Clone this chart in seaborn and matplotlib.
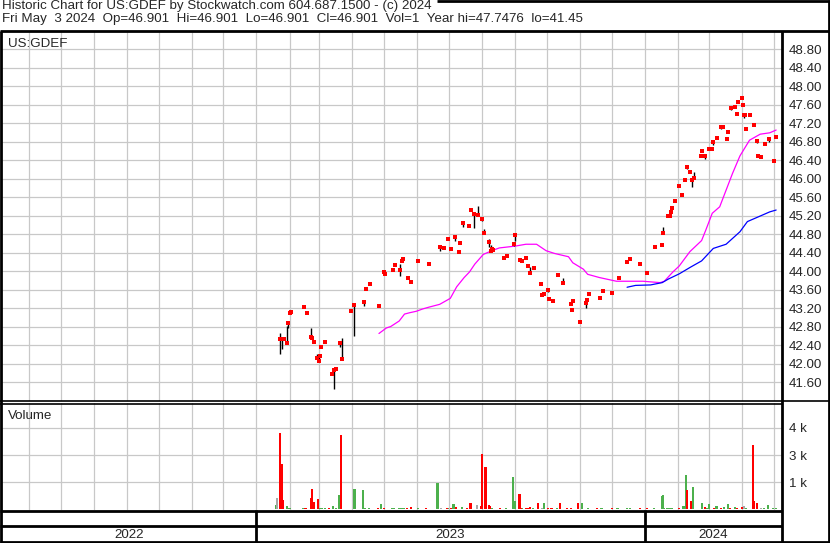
import pandas as pd
import matplotlib.pyplot as plt
import seaborn as sns

# --- price data (daily high / low / close) ---
price_dates = [
    '2023-01-23', '2023-01-25', '2023-01-27', '2023-01-30', '2023-01-31', '2023-02-01', '2023-02-02',
    '2023-02-15', '2023-02-17', '2023-02-21', '2023-02-22', '2023-02-24', '2023-02-27', '2023-03-01',
    '2023-03-02', '2023-03-03', '2023-03-06', '2023-03-13', '2023-03-15', '2023-03-17', '2023-03-20',
    '2023-03-22', '2023-03-31', '2023-04-03', '2023-04-12', '2023-04-14', '2023-04-18', '2023-04-26',
    '2023-05-01', '2023-05-02', '2023-05-09', '2023-05-11', '2023-05-16', '2023-05-18', '2023-05-19',
    '2023-05-23', '2023-05-26', '2023-06-02', '2023-06-12', '2023-06-22', '2023-06-26', '2023-06-30',
    '2023-07-03', '2023-07-06', '2023-07-10', '2023-07-11', '2023-07-14', '2023-07-20', '2023-07-21',
    '2023-07-24', '2023-07-28', '2023-08-01', '2023-08-03', '2023-08-07', '2023-08-09', '2023-08-10',
    '2023-08-11', '2023-08-21', '2023-08-24', '2023-08-31', '2023-09-01', '2023-09-05', '2023-09-07',
    '2023-09-11', '2023-09-13', '2023-09-15', '2023-09-19', '2023-09-25', '2023-09-26', '2023-09-28',
    '2023-10-02', '2023-10-03', '2023-10-06', '2023-10-11', '2023-10-16', '2023-10-23', '2023-10-24',
    '2023-10-25', '2023-11-01', '2023-11-06', '2023-11-07', '2023-11-09', '2023-11-20', '2023-11-22',
    '2023-12-01', '2023-12-07', '2023-12-15', '2023-12-18', '2023-12-27', '2024-01-03', '2024-01-10',
    '2024-01-17', '2024-01-18', '2024-01-22', '2024-01-24', '2024-01-25', '2024-01-26', '2024-01-29',
    '2024-02-02', '2024-02-05', '2024-02-07', '2024-02-09', '2024-02-12', '2024-02-14', '2024-02-16',
    '2024-02-22', '2024-02-23', '2024-02-26', '2024-03-01', '2024-03-04', '2024-03-05', '2024-03-08',
    '2024-03-12', '2024-03-14', '2024-03-18', '2024-03-19', '2024-03-22', '2024-03-25', '2024-03-27',
    '2024-03-28', '2024-04-01', '2024-04-02', '2024-04-03', '2024-04-04', '2024-04-05', '2024-04-08',
    '2024-04-12', '2024-04-15', '2024-04-16', '2024-04-19', '2024-04-23', '2024-04-26', '2024-05-01',
    '2024-05-03',
]
price_high = [
    42.66, 42.55, 42.53, 42.81, 42.88, 43.10, 43.11, 43.22, 43.10, 42.77, 42.55, 42.47, 42.21, 42.17,
    42.17, 42.36, 42.46, 41.78, 41.88, 41.89, 42.49, 42.55, 43.14, 43.29, 43.34, 43.61, 43.72, 43.24,
    43.98, 43.94, 44.02, 44.13, 44.15, 44.22, 44.26, 43.85, 43.76, 44.22, 44.15, 44.54, 44.50, 44.69,
    44.48, 44.76, 44.41, 44.61, 45.04, 44.98, 45.32, 45.25, 45.41, 45.15, 44.91, 44.69, 44.56, 44.47,
    44.45, 44.28, 44.32, 44.58, 44.80, 44.27, 44.22, 44.28, 44.11, 44.09, 44.07, 43.74, 43.48, 43.51,
    43.63, 43.40, 43.36, 43.92, 43.84, 43.29, 43.16, 43.36, 42.90, 43.30, 43.37, 43.50, 43.42, 43.57,
    43.53, 43.85, 44.19, 44.27, 44.16, 43.96, 44.53, 44.57, 44.96, 45.19, 45.19, 45.28, 45.37, 45.52,
    45.84, 45.65, 45.98, 46.28, 46.15, 45.99, 46.14, 46.49, 46.59, 46.51, 46.64, 46.64, 46.79, 46.88,
    47.11, 47.11, 46.85, 47.01, 47.54, 47.54, 47.39, 47.65, 47.75, 47.60, 47.38, 47.38, 47.07, 47.38,
    47.16, 46.83, 46.49, 46.47, 46.75, 46.87, 46.38, 46.90,
]
price_low = [
    42.21, 42.31, 42.53, 42.42, 42.77, 43.10, 43.11, 43.22, 43.10, 42.58, 42.55, 42.47, 42.12, 42.05,
    42.17, 42.36, 42.46, 41.78, 41.45, 41.89, 42.36, 42.10, 43.14, 42.60, 43.25, 43.61, 43.72, 43.24,
    43.98, 43.94, 44.02, 44.13, 43.90, 44.22, 44.26, 43.85, 43.76, 44.22, 44.15, 44.43, 44.50, 44.69,
    44.48, 44.65, 44.41, 44.61, 44.96, 44.98, 45.32, 44.94, 45.21, 45.09, 44.82, 44.52, 44.42, 44.47,
    44.45, 44.28, 44.32, 44.54, 44.66, 44.22, 44.22, 44.28, 44.11, 43.95, 44.07, 43.70, 43.48, 43.51,
    43.55, 43.40, 43.36, 43.92, 43.75, 43.29, 43.16, 43.36, 42.90, 43.21, 43.37, 43.50, 43.42, 43.57,
    43.53, 43.85, 44.19, 44.27, 44.16, 43.96, 44.53, 44.57, 44.82, 45.19, 45.19, 45.28, 45.37, 45.52,
    45.84, 45.65, 45.98, 46.20, 46.15, 45.81, 45.99, 46.49, 46.59, 46.42, 46.64, 46.64, 46.72, 46.88,
    47.07, 47.11, 46.85, 47.01, 47.48, 47.54, 47.39, 47.65, 47.75, 47.60, 47.31, 47.38, 47.07, 47.38,
    47.16, 46.76, 46.49, 46.47, 46.75, 46.80, 46.38, 46.90,
]
price_close = [
    42.53, 42.53, 42.53, 42.44, 42.88, 43.10, 43.11, 43.22, 43.10, 42.58, 42.55, 42.47, 42.12, 42.06,
    42.17, 42.36, 42.46, 41.78, 41.87, 41.89, 42.44, 42.10, 43.14, 43.27, 43.33, 43.61, 43.72, 43.24,
    43.98, 43.94, 44.02, 44.13, 44.02, 44.22, 44.26, 43.85, 43.76, 44.22, 44.15, 44.52, 44.50, 44.69,
    44.48, 44.74, 44.41, 44.61, 45.03, 44.98, 45.32, 45.23, 45.21, 45.12, 44.83, 44.63, 44.44, 44.47,
    44.45, 44.28, 44.32, 44.58, 44.79, 44.24, 44.22, 44.28, 44.11, 43.95, 44.07, 43.72, 43.48, 43.51,
    43.59, 43.40, 43.36, 43.92, 43.75, 43.29, 43.16, 43.36, 42.90, 43.30, 43.37, 43.50, 43.42, 43.57,
    43.53, 43.85, 44.19, 44.27, 44.16, 43.96, 44.53, 44.57, 44.83, 45.19, 45.19, 45.28, 45.37, 45.52,
    45.84, 45.65, 45.98, 46.24, 46.15, 45.98, 46.01, 46.49, 46.59, 46.49, 46.64, 46.64, 46.79, 46.88,
    47.11, 47.11, 46.85, 47.01, 47.52, 47.54, 47.39, 47.65, 47.75, 47.60, 47.38, 47.38, 47.07, 47.38,
    47.16, 46.81, 46.49, 46.47, 46.75, 46.86, 46.38, 46.90,
]

# --- moving averages ---
ma_short_dates = [
    '2023-04-26', '2023-05-03', '2023-05-07', '2023-05-15', '2023-05-20', '2023-05-25', '2023-05-31',
    '2023-06-06', '2023-06-12', '2023-06-22', '2023-07-02', '2023-07-08', '2023-07-15', '2023-07-20',
    '2023-07-25', '2023-08-02', '2023-08-10', '2023-08-17', '2023-09-01', '2023-09-11', '2023-09-21',
    '2023-09-30', '2023-10-08', '2023-10-21', '2023-10-25', '2023-11-04', '2023-11-08', '2023-11-19',
    '2023-12-05', '2023-12-30', '2024-01-15', '2024-01-19', '2024-01-27', '2024-02-02', '2024-02-12',
    '2024-02-23', '2024-02-27', '2024-03-04', '2024-03-11', '2024-03-17', '2024-03-23', '2024-03-30',
    '2024-04-08', '2024-04-18', '2024-04-27', '2024-05-03',
]
ma_short = [
    42.65, 42.77, 42.80, 42.92, 43.07, 43.10, 43.13, 43.18, 43.22, 43.28, 43.41, 43.66, 43.86, 43.98,
    44.15, 44.36, 44.44, 44.50, 44.54, 44.58, 44.58, 44.44, 44.38, 44.31, 44.18, 44.04, 43.93, 43.86,
    43.78, 43.78, 43.75, 43.78, 43.98, 44.11, 44.42, 44.66, 44.89, 45.25, 45.39, 45.75, 46.11, 46.49,
    46.83, 46.96, 46.99, 47.05,
]
ma_long_dates = [
    '2023-12-15', '2023-12-23', '2024-01-06', '2024-01-17', '2024-01-23', '2024-02-02', '2024-02-13',
    '2024-02-23', '2024-03-05', '2024-03-17', '2024-03-30', '2024-04-06', '2024-04-18', '2024-04-27',
    '2024-05-03',
]
ma_long = [
    43.65, 43.69, 43.70, 43.75, 43.83, 43.94, 44.09, 44.22, 44.49, 44.58, 44.85, 45.07, 45.19, 45.28,
    45.32,
]

# --- volume (up / down / flat days) ---
vol_dates = [
    '2023-01-19', '2023-01-20', '2023-01-23', '2023-01-25', '2023-01-26', '2023-01-30', '2023-02-01',
    '2023-02-14', '2023-02-16', '2023-02-21', '2023-02-22', '2023-02-24', '2023-02-28', '2023-03-01',
    '2023-03-03', '2023-03-06', '2023-03-10', '2023-03-14', '2023-03-17', '2023-03-20', '2023-03-21',
    '2023-04-03', '2023-04-11', '2023-04-13', '2023-04-17', '2023-04-25', '2023-04-28', '2023-05-01',
    '2023-05-08', '2023-05-10', '2023-05-15', '2023-05-17', '2023-05-19', '2023-05-22', '2023-05-26',
    '2023-06-02', '2023-06-09', '2023-06-20', '2023-06-23', '2023-06-29', '2023-06-30', '2023-07-03',
    '2023-07-05', '2023-07-07', '2023-07-13', '2023-07-18', '2023-07-21', '2023-07-27', '2023-07-31',
    '2023-08-01', '2023-08-04', '2023-08-07', '2023-08-08', '2023-08-10', '2023-08-18', '2023-08-23',
    '2023-08-30', '2023-09-01', '2023-09-05', '2023-09-06', '2023-09-07', '2023-09-11', '2023-09-13',
    '2023-09-15', '2023-09-18', '2023-09-22', '2023-09-26', '2023-09-28', '2023-10-02', '2023-10-05',
    '2023-10-10', '2023-10-13', '2023-10-20', '2023-10-23', '2023-10-30', '2023-11-03', '2023-11-08',
    '2023-11-17', '2023-11-21', '2023-12-01', '2023-12-06', '2023-12-15', '2023-12-18', '2023-12-27',
    '2024-01-03', '2024-01-09', '2024-01-17', '2024-01-18', '2024-01-19', '2024-01-22', '2024-01-23',
    '2024-01-25', '2024-01-26', '2024-02-02', '2024-02-06', '2024-02-08', '2024-02-09', '2024-02-13',
    '2024-02-15', '2024-02-23', '2024-02-26', '2024-02-28', '2024-03-01', '2024-03-06', '2024-03-08',
    '2024-03-12', '2024-03-15', '2024-03-19', '2024-03-21', '2024-03-25', '2024-03-27', '2024-04-01',
    '2024-04-03', '2024-04-05', '2024-04-11', '2024-04-12', '2024-04-15', '2024-04-19', '2024-04-22',
    '2024-04-25', '2024-04-30', '2024-05-03',
]
vol_values = [
    210, 560, 3770, 2240, 460, 170, 70, 70, 70, 560, 1000, 370, 500, 70,
    70, 70, 70, 170, 70, 700, 3650, 1000, 950, 70, 70, 70, 250, 70,
    70, 70, 70, 70, 70, 70, 120, 70, 70, 1300, 70, 70, 70, 70,
    250, 120, 120, 70, 300, 210, 170, 2720, 2080, 210, 170, 70, 70, 70,
    1580, 410, 760, 70, 70, 70, 70, 120, 70, 300, 70, 300, 70, 70,
    70, 300, 70, 70, 300, 300, 70, 70, 70, 70, 70, 70, 70, 70,
    70, 70, 640, 690, 70, 70, 70, 70, 70, 70, 170, 1680, 940, 400,
    1090, 300, 120, 70, 250, 70, 170, 70, 120, 250, 70, 120, 70, 120,
    170, 70, 3160, 410, 300, 70, 70, 210, 70, 70,
]
vol_dir = [
    'up', 'flat', 'down', 'down', 'down', 'up', 'up', 'up', 'down', 'down', 'down', 'down', 'down', 'up',
    'up', 'up', 'down', 'up', 'up', 'up', 'down', 'up', 'up', 'up', 'up', 'down', 'up', 'down',
    'up', 'up', 'up', 'up', 'up', 'down', 'down', 'up', 'down', 'up', 'flat', 'down', 'up', 'down',
    'up', 'down', 'up', 'down', 'down', 'flat', 'down', 'down', 'down', 'down', 'down', 'up', 'down', 'up',
    'up', 'up', 'down', 'down', 'up', 'down', 'down', 'down', 'up', 'down', 'flat', 'up', 'down', 'down',
    'up', 'down', 'down', 'down', 'down', 'up', 'up', 'down', 'up', 'down', 'up', 'up', 'up', 'down',
    'down', 'up', 'up', 'up', 'up', 'up', 'up', 'up', 'up', 'down', 'up', 'up', 'down', 'down',
    'up', 'up', 'down', 'up', 'up', 'down', 'up', 'down', 'up', 'up', 'down', 'up', 'down', 'down',
    'flat', 'up', 'down', 'down', 'down', 'flat', 'up', 'up', 'up', 'up',
]

price_ticks = [41.60, 42.00, 42.40, 42.80, 43.20, 43.60, 44.00, 44.40, 44.80,
               45.20, 45.60, 46.00, 46.40, 46.80, 47.20, 47.60, 48.00, 48.40, 48.80]
vol_ticks = [1333, 2667, 4000]
vol_tick_labels = ['1 k', '3 k', '4 k']
years = ['2022', '2023', '2024']

header1 = 'Historic Chart for US:GDEF by Stockwatch.com 604.687.1500 - (c) 2024'
header2 = ('Fri May  3 2024  Op=46.901  Hi=46.901  Lo=46.901  Cl=46.901  '
           'Vol=1  Year hi=47.7476  lo=41.45')

# ---------------------------------------------------------------
px = pd.DataFrame({'date': pd.to_datetime(price_dates), 'high': price_high,
                   'low': price_low, 'close': price_close})
bars = px[px['high'] != px['low']]
ma1 = pd.DataFrame({'date': pd.to_datetime(ma_short_dates), 'value': ma_short})
ma2 = pd.DataFrame({'date': pd.to_datetime(ma_long_dates), 'value': ma_long})
vol = pd.DataFrame({'date': pd.to_datetime(vol_dates), 'volume': vol_values, 'dir': vol_dir})
vol_colors = {'up': '#4cb04c', 'down': '#ff0000', 'flat': '#a8a8a8'}

sns.set_style('white')
plt.rcParams['font.family'] = ['Liberation Sans', 'DejaVu Sans']

W, H = 830, 543
fs = 9.6
fig = plt.figure(figsize=(W / 100, H / 100), dpi=100)


def box(x0, y0, x1, y1):
    return [x0 / W, 1 - y1 / H, (x1 - x0) / W, (y1 - y0) / H]


ax = fig.add_axes(box(2, 32, 782, 401))
axv = fig.add_axes(box(2, 403, 782, 510), sharex=ax)

xmin, xmax = pd.Timestamp('2022-05-07'), pd.Timestamp('2024-05-08 12:00')
months = pd.date_range('2022-06-01', '2024-05-01', freq='MS')
grid_kw = dict(color='#c8c8c8', linewidth=0.9)

# price panel
ax.vlines(bars['date'], bars['low'], bars['high'], color='black', linewidth=1.0, zorder=3)
sns.scatterplot(data=px, x='date', y='close', marker='s', s=7, color='#ff0000',
                linewidth=0, ax=ax, zorder=4)
sns.lineplot(data=ma1, x='date', y='value', color='#ff00ff', linewidth=0.9, ax=ax, zorder=2)
sns.lineplot(data=ma2, x='date', y='value', color='#0000ff', linewidth=0.9, ax=ax, zorder=2)

ax.set_xlim(xmin, xmax)
ax.set_ylim(41.19, 49.17)
ax.set_xticks(months)
ax.set_yticks(price_ticks)
ax.set_yticklabels([f'{t:.2f}' for t in price_ticks])
ax.yaxis.tick_right()
ax.grid(True, **grid_kw)
ax.set_axisbelow(True)
ax.tick_params(axis='x', length=0, labelbottom=False)
ax.tick_params(axis='y', length=0, pad=5, labelsize=fs)
ax.set_xlabel('')
ax.set_ylabel('')
ax.text(0.008, 0.985, 'US:GDEF', transform=ax.transAxes, ha='left', va='top', fontsize=fs)

# volume panel
for d, c in vol_colors.items():
    sub = vol[vol['dir'] == d]
    axv.bar(sub['date'], sub['volume'], width=2.0, color=c, linewidth=0, zorder=3)
axv.set_ylim(-40, 5230)
axv.set_yticks(vol_ticks)
axv.set_yticklabels(vol_tick_labels)
axv.yaxis.tick_right()
axv.grid(True, **grid_kw)
axv.set_axisbelow(True)
axv.tick_params(axis='x', length=0, labelbottom=False)
axv.tick_params(axis='y', length=0, pad=5, labelsize=fs)
axv.text(0.008, 0.93, 'Volume', transform=axv.transAxes, ha='left', va='top', fontsize=fs)

for a in (ax, axv):
    for s in a.spines.values():
        s.set_visible(False)

# frame / overlay in pixel space
ov = fig.add_axes([0, 0, 1, 1], zorder=10)
ov.set_xlim(0, W)
ov.set_ylim(H, 0)
ov.set_axis_off()
ov.patch.set_alpha(0)

lw = 2.0
seg = [
    ((437, 830), (0.8, 0.8)),      # top
    ((0, 830), (31, 31)),          # under header
    ((1, 1), (31, 543)),           # left
    ((829, 829), (0, 543)),        # right
    ((782, 782), (31, 543)),       # axis column
    ((0, 782), (400.5, 400.5)),    # price bottom
    ((0, 782), (403.5, 403.5)),    # volume top
    ((782, 830), (401, 401)),
    ((0, 782), (510.5, 510.5)),    # volume bottom
    ((0, 782), (526, 526)),        # month row
    ((0, 830), (542, 542)),        # bottom
    ((256, 256), (510, 542)),
    ((645, 645), (510, 542)),
]
for xs, ys in seg:
    w = 1.2 if ys[0] in (400.5, 403.5, 401) else lw
    ov.plot(xs, ys, color='black', linewidth=w, solid_capstyle='butt')

ov.text(2, 0.0, header1, ha='left', va='top', fontsize=fs)
ov.text(2, 13.0, header2, ha='left', va='top', fontsize=fs)
for yr, x0, x1 in zip(years, [2, 256, 645], [256, 645, 782]):
    ov.text((x0 + x1) / 2, 535, yr, ha='center', va='center', fontsize=fs)

plt.savefig('out.png', dpi=100)
